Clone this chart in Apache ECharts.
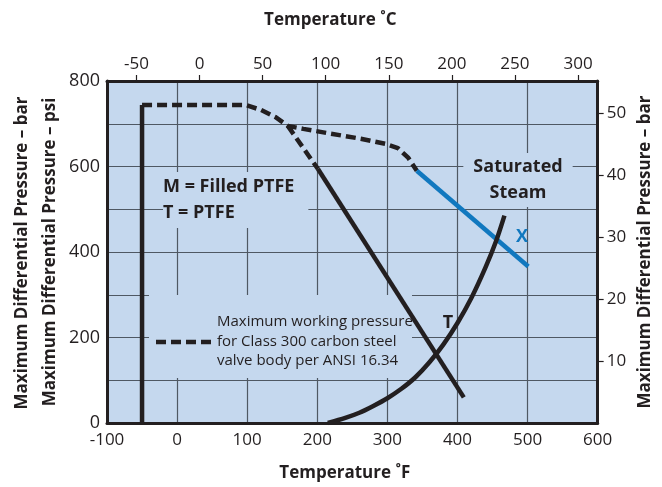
<!DOCTYPE html>
<html>
<head>
<meta charset="utf-8">
<script src="https://cdn.jsdelivr.net/npm/echarts@6/dist/echarts.min.js"></script>
<style>
  html, body { margin: 0; padding: 0; background: #fff; }
  #chart { width: 662px; height: 487px; }
</style>
</head>
<body>
<div id="chart"></div>
<script>
// readings, temperature in °F and pressure in psi
const lowLimitF = [-50, -50]
const lowLimitPsi = [0, 744]

const ansiF = [-50, 98, 120, 140, 158, 180, 215, 262, 297, 315, 330, 342]
const ansiPsi = [744, 744, 732, 716, 695, 688, 678, 665, 653, 643, 620, 590]

const ptfeDashF = [158, 201]
const ptfeDashPsi = [695, 594]
const ptfeF = [201, 409]
const ptfePsi = [594, 60]

const filledF = [342, 501]
const filledPsi = [590, 366]

const steamF = [215, 240, 260, 280, 300, 320, 340, 360, 380, 400, 420, 440, 455, 467]
const steamPsi = [0, 12, 24, 40, 58, 80, 107, 142, 184, 234, 293, 364, 425, 485]

const celsiusTicks = [-50, 0, 50, 100, 150, 200, 250, 300]
const barTicks = [10, 20, 30, 40, 50]

const INK = '#231f20'
const PANEL = '#c5d8ee'
const GRID_C = '#4f5863'
const BLUE = '#1178bf'
const FONT = '"Open Sans", "Noto Sans", sans-serif'

const fMin = -100
const fMax = 600
const psiMax = 800
const toC = f => (f - 32) / 1.8
const PSI_PER_BAR = 14.5038

const pairs = (xs, ys) => xs.map((x, i) => [x, ys[i]])

const axisLine = { show: true, onZero: false, lineStyle: { color: INK, width: 3 } }
const tickText = { color: INK, fontSize: 17, fontFamily: FONT }
const nameText = { color: INK, fontSize: 17, fontWeight: 'bold', fontFamily: FONT }

const line = (data, color, type) => ({
  type: 'line',
  data,
  showSymbol: false,
  symbol: 'none',
  animation: false,
  lineStyle: { color, width: 4.5, type: type || 'solid', cap: 'butt' }
})

const chart = echarts.init(document.getElementById('chart'))
chart.setOption({
  animation: false,
  grid: {
    left: 107,
    top: 81,
    width: 495,
    height: 345,
    show: true,
    backgroundColor: PANEL,
    borderWidth: 0
  },
  xAxis: [{
    type: 'value',
    position: 'bottom',
    min: fMin,
    max: fMax,
    interval: 100,
    axisLine,
    axisTick: { show: false },
    axisLabel: { ...tickText, margin: 9 },
    splitLine: { show: true, lineStyle: { color: GRID_C, width: 1.2 } },
    name: 'Temperature ˚F',
    nameLocation: 'middle',
    nameGap: 42,
    nameTextStyle: { ...nameText, padding: [0, 15, 0, 0] }
  }, {
    type: 'value',
    position: 'top',
    min: toC(fMin),
    max: toC(fMax),
    axisLine,
    axisTick: { show: true, customValues: celsiusTicks, length: 6, lineStyle: { color: INK, width: 1.2 } },
    axisLabel: { ...tickText, customValues: celsiusTicks, margin: 8 },
    splitLine: { show: false },
    name: 'Temperature ˚C',
    nameLocation: 'middle',
    nameGap: 52,
    nameTextStyle: { ...nameText, padding: [0, 44, 0, 0] }
  }],
  yAxis: [{
    type: 'value',
    position: 'left',
    min: 0,
    max: psiMax,
    interval: 100,
    axisLine,
    axisTick: { show: false },
    axisLabel: { ...tickText, fontSize: 18, margin: 7, formatter: v => (v % 200 === 0 ? v : '') },
    splitLine: { show: true, lineStyle: { color: GRID_C, width: 1.2 } },
    name: 'Maximum Differential Pressure – psi',
    nameLocation: 'middle',
    nameRotate: 90,
    nameGap: 46,
    nameTextStyle: nameText
  }, {
    type: 'value',
    position: 'right',
    min: 0,
    max: psiMax / PSI_PER_BAR,
    axisLine,
    axisTick: { show: true, customValues: barTicks, length: 6, lineStyle: { color: INK, width: 1.2 } },
    axisLabel: { ...tickText, customValues: barTicks, margin: 9 },
    splitLine: { show: false },
    name: 'Maximum Differential Pressure – bar',
    nameLocation: 'middle',
    nameRotate: 90,
    nameGap: 37,
    nameTextStyle: nameText
  }],
  series: [
    line(pairs(lowLimitF, lowLimitPsi), INK),
    line(pairs(ansiF, ansiPsi), INK, [10, 5]),
    line(pairs(ptfeDashF, ptfeDashPsi), INK, [10, 5]),
    line(pairs(ptfeF, ptfePsi), INK),
    line(pairs(filledF, filledPsi), BLUE),
    { ...line(pairs(steamF, steamPsi), INK), smooth: 0.3 }
  ],
  graphic: [
    // second copy of the bar label, cut at the left edge in the source
    {
      type: 'text',
      x: 22,
      y: 253,
      rotation: Math.PI / 2,
      style: { text: 'Maximum Differential Pressure – bar', font: 'bold 17px ' + FONT, fill: INK, align: 'center', verticalAlign: 'middle' }
    },
    {
      type: 'text',
      z: 1,
      x: 163,
      y: 172,
      style: {
        text: 'M = Filled PTFE\nT = PTFE',
        font: 'bold 18px ' + FONT,
        fill: INK,
        lineHeight: 26,
        backgroundColor: PANEL,
        padding: [2, 14, 2, 0]
      }
    },
    {
      type: 'group',
      z: 1,
      children: [{
        type: 'rect',
        z: 1,
        shape: { x: 149, y: 295, width: 263, height: 83 },
        style: { fill: PANEL }
      }, {
        type: 'line',
        z: 1,
        shape: { x1: 156, y1: 342, x2: 211, y2: 342 },
        style: { stroke: INK, lineWidth: 4.5, lineDash: [10, 5] }
      }, {
        type: 'text',
        z: 1,
        x: 217,
        y: 312,
        style: {
          text: 'Maximum working pressure\nfor Class 300 carbon steel\nvalve body per ANSI 16.34',
          font: '15px ' + FONT,
          fill: INK,
          lineHeight: 19.5
        }
      }]
    },
    {
      type: 'text',
      z: 1,
      x: 448,
      y: 323,
      style: { text: 'T', font: 'bold 18px ' + FONT, fill: INK, align: 'center', verticalAlign: 'middle' }
    },
    {
      type: 'text',
      z: 1,
      x: 518,
      y: 153,
      style: {
        text: 'Saturated\nSteam',
        font: 'bold 18px ' + FONT,
        fill: INK,
        align: 'center',
        lineHeight: 26,
        backgroundColor: PANEL,
        padding: [1, 10, 1, 10]
      }
    },
    {
      type: 'text',
      z: 3,
      x: 522,
      y: 237,
      style: { text: 'X', font: 'bold 18px ' + FONT, fill: BLUE, align: 'center', verticalAlign: 'middle' }
    }
  ]
})
</script>
</body>
</html>
